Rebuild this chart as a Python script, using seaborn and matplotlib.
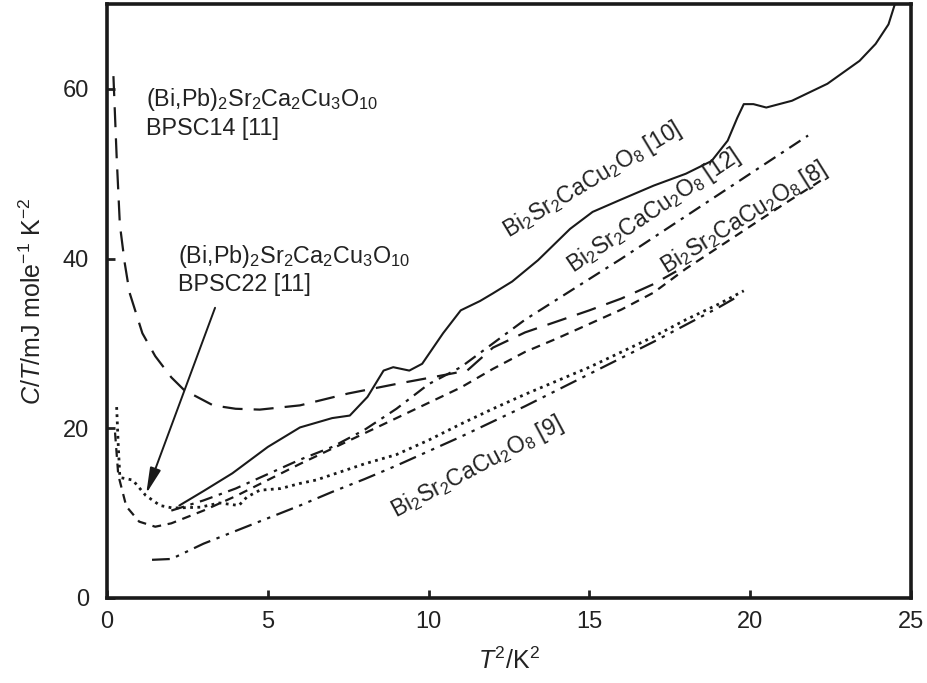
import numpy as np
import pandas as pd
import matplotlib
matplotlib.use("Agg")
import matplotlib.pyplot as plt
import seaborn as sns

# ---- data ----
x10 = [2.25, 3.0, 3.9, 5.0, 6.0, 7.0, 7.55, 8.1, 8.6, 8.9, 9.4, 9.8, 10.45, 11.0, 11.6, 12.0, 12.6, 13.4, 14.4, 15.1, 15.95, 17.0, 18.0, 18.8, 19.3, 19.6, 19.8, 20.1, 20.5, 21.3, 22.4, 23.4, 23.9, 24.3, 24.5]
y10 = [10.9, 12.6, 14.7, 17.8, 20.1, 21.2, 21.5, 23.7, 26.8, 27.2, 26.8, 27.6, 31.2, 33.9, 35.0, 35.9, 37.3, 39.8, 43.5, 45.5, 46.9, 48.6, 50.0, 51.5, 53.9, 56.6, 58.2, 58.2, 57.8, 58.6, 60.6, 63.3, 65.3, 67.6, 70.0]

x12 = [2.0, 3.0, 4.0, 5.0, 6.0, 7.0, 8.0, 9.0, 10.0, 11.0, 12.0, 13.0, 14.0, 15.0, 16.0, 17.0, 18.0, 19.0, 20.0, 21.0, 21.8]
y12 = [10.3, 11.5, 12.9, 14.6, 16.3, 17.8, 19.8, 22.3, 25.2, 27.2, 30.0, 32.8, 35.2, 37.6, 40.0, 42.5, 45.0, 47.5, 50.0, 52.5, 54.5]

x8 = [0.25, 0.35, 0.6, 1.0, 1.5, 2.0, 3.0, 4.0, 5.0, 6.0, 7.0, 8.0, 9.0, 10.0, 11.0, 12.0, 13.0, 14.0, 15.0, 16.0, 17.0, 18.0, 19.0, 20.0, 21.0, 22.2]
y8 = [19.5, 14.5, 10.8, 9.0, 8.4, 8.8, 10.3, 12.0, 13.9, 15.8, 17.6, 19.4, 21.2, 23.0, 24.8, 27.0, 29.0, 30.6, 32.3, 34.0, 36.0, 38.8, 41.3, 43.8, 46.3, 49.2]

x14 = [0.2, 0.3, 0.4, 0.55, 0.7, 1.1, 1.5, 2.0, 2.4, 3.3, 4.0, 4.75, 6.0, 7.5, 9.1, 10.1, 11.2, 12.0, 13.0, 14.0, 15.0, 16.0, 17.0, 17.7]
y14 = [61.5, 52.0, 44.0, 39.5, 36.0, 31.2, 28.5, 26.0, 24.5, 22.7, 22.3, 22.2, 22.7, 24.1, 25.3, 26.0, 26.8, 29.5, 31.3, 32.6, 33.9, 35.3, 37.0, 38.5]

x22 = [0.3, 0.35, 0.4, 0.8, 1.2, 1.65, 2.05, 2.9, 3.5, 4.1, 4.35, 4.75, 5.4, 6.0, 6.5, 8.0, 9.0, 10.0, 11.0, 12.0, 13.0, 14.0, 15.0, 16.0, 17.0, 18.0, 19.0, 19.8]
y22 = [22.5, 18.0, 14.2, 13.9, 12.1, 10.9, 10.6, 10.7, 11.2, 10.9, 11.9, 12.7, 12.9, 13.5, 13.9, 15.8, 16.9, 18.6, 20.5, 22.3, 24.0, 25.6, 27.2, 29.0, 30.8, 32.8, 34.6, 36.2]

x9 = [1.4, 2.0, 3.0, 4.0, 5.0, 6.0, 7.0, 8.0, 9.0, 10.0, 11.0, 12.0, 13.0, 14.0, 15.0, 16.0, 17.0, 18.0, 19.0, 19.6]
y9 = [4.5, 4.6, 6.4, 7.9, 9.4, 10.9, 12.5, 14.0, 15.6, 17.3, 19.0, 20.8, 22.6, 24.5, 26.4, 28.3, 30.2, 32.2, 34.2, 35.5]

xticks = [0, 5, 10, 15, 20, 25]
yticks = [0, 20, 40, 60]

series = [
    ("[10]", x10, y10, "-", 1.5),
    ("[12]", x12, y12, (0, (6, 3, 1.5, 3)), 1.6),
    ("[8]", x8, y8, (0, (4, 3)), 1.6),
    ("BPSC14", x14, y14, (0, (9, 5)), 1.6),
    ("BPSC22", x22, y22, (0, (1, 1.6)), 2.0),
    ("[9]", x9, y9, (0, (8, 3, 1.5, 3, 1.5, 3)), 1.6),
]

sns.set_theme(style="ticks")
plt.rcParams["font.family"] = ["Liberation Sans", "DejaVu Sans"]
plt.rcParams["mathtext.fontset"] = "custom"
plt.rcParams["mathtext.rm"] = "Liberation Sans"
plt.rcParams["mathtext.it"] = "Liberation Sans:italic"

fig = plt.figure(figsize=(9.28, 6.83), dpi=100)
ax = fig.add_axes([107 / 928, 1 - 598 / 683, (911 - 107) / 928, (598 - 4) / 683])

for name, xs, ys, ls, lw in series:
    df = pd.DataFrame({"x": xs, "y": ys})
    sns.lineplot(data=df, x="x", y="y", ax=ax, color="#1a1a1a", linestyle=ls,
                 linewidth=lw, sort=False, estimator=None)

ax.set_xlim(0, 25)
ax.set_ylim(0, 70)
ax.set_xticks(xticks)
ax.set_yticks(yticks)
ax.tick_params(direction="in", length=6, width=2, labelsize=17, colors="#222222")
ax.tick_params(axis="x", pad=9)
ax.tick_params(axis="y", pad=13)
for s in ax.spines.values():
    s.set_linewidth(2.6)
    s.set_color("#1a1a1a")

ax.set_xlabel("$T^2$/K$^2$", fontsize=18, labelpad=11, color="#222222")
ax.set_ylabel("$C$/$T$/mJ mole$^{-1}$ K$^{-2}$", fontsize=18, labelpad=12, color="#222222")

fs = 16.8
tc = "#222222"
ax.text(1.22, 58.8, "(Bi,Pb)$_2$Sr$_2$Ca$_2$Cu$_3$O$_{10}$", fontsize=fs, va="center", ha="left", color=tc)
ax.text(1.22, 55.3, "BPSC14 [11]", fontsize=fs, va="center", ha="left", color=tc)
ax.text(2.22, 40.3, "(Bi,Pb)$_2$Sr$_2$Ca$_2$Cu$_3$O$_{10}$", fontsize=fs, va="center", ha="left", color=tc)
ax.text(2.22, 36.9, "BPSC22 [11]", fontsize=fs, va="center", ha="left", color=tc)

rfs = 16.5
ax.text(15.1, 49.2, "Bi$_2$Sr$_2$CaCu$_2$O$_8$ [10]", fontsize=rfs, rotation=31,
        ha="center", va="center", rotation_mode="anchor", color=tc)
ax.text(17.0, 45.6, "Bi$_2$Sr$_2$CaCu$_2$O$_8$ [12]", fontsize=rfs, rotation=34,
        ha="center", va="center", rotation_mode="anchor", color=tc)
ax.text(19.8, 44.8, "Bi$_2$Sr$_2$CaCu$_2$O$_8$ [8]", fontsize=rfs, rotation=32,
        ha="center", va="center", rotation_mode="anchor", color=tc)
ax.text(11.5, 15.4, "Bi$_2$Sr$_2$CaCu$_2$O$_8$ [9]", fontsize=rfs, rotation=28,
        ha="center", va="center", rotation_mode="anchor", color=tc)

ax.annotate("", xy=(1.22, 12.3), xytext=(3.36, 34.2),
            arrowprops=dict(arrowstyle="-|>,head_length=1.3,head_width=0.28",
                            color="#1a1a1a", lw=1.4, shrinkA=0, shrinkB=0))

fig.savefig("out.png", dpi=100, facecolor="white")
